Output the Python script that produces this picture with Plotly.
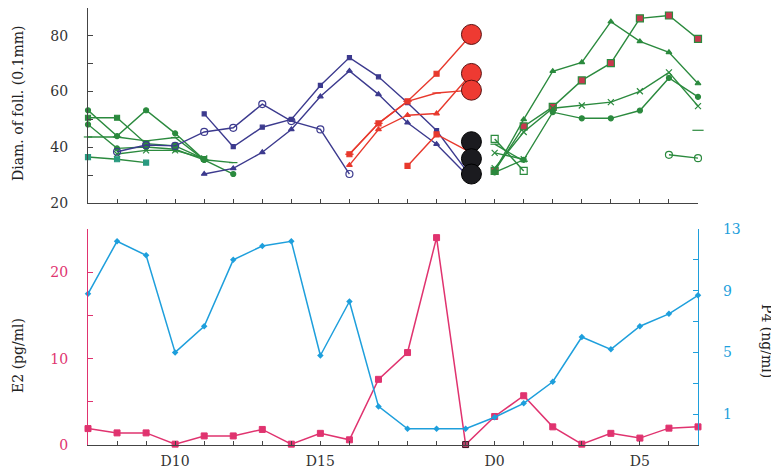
import plotly.graph_objects as go

# ---------------- data ----------------
# day index 0..21  ->  D7 ... D20, D0 ... D7
day_tick_vals = [3, 8, 14, 19]
day_tick_text = ["D10", "D15", "D0", "D5"]

# follicle diameters (0.1 mm) - green group (left)
gl1_x = [0, 1, 2, 3, 4, 5];  gl1_y = [53.3, 44.0, 53.3, 45.0, 35.5, 30.4]
gl2_x = [0, 1, 2, 3, 4];     gl2_y = [50.6, 50.6, 41.3, 40.5, 35.8]
gl3_x = [0, 1, 2, 3, 4, 5];  gl3_y = [43.7, 43.7, 42.3, 43.5, 35.5, 34.5]
gl4_x = [0, 1, 2, 3, 4];     gl4_y = [48.2, 39.6, 40.1, 39.3, 35.5]
gl5_x = [1, 2, 3, 4];        gl5_y = [37.6, 38.9, 38.9, 36.0]
gl6_x = [0, 1, 2];           gl6_y = [36.5, 35.7, 34.5]

# purple group
p1_x = [1, 2, 3, 4, 5, 6, 7, 8, 9]
p1_y = [38.4, 40.8, 40.5, 45.5, 47.0, 55.5, 49.4, 46.4, 30.4]
p2_x = [4, 5, 6, 7, 8, 9, 10, 11, 12, 13]
p2_y = [52.0, 40.2, 47.2, 50.0, 62.2, 72.2, 65.3, 56.0, 46.0, 32.0]
p3_x = [4, 5, 6, 7, 8, 9, 10, 11, 12, 13]
p3_y = [30.4, 32.4, 38.2, 46.4, 58.2, 67.4, 59.0, 48.8, 41.1, 30.5]

# red group (ending at ovulatory follicles)
r1_x = [9, 10, 11, 12, 13.2]; r1_y = [37.5, 48.6, 56.5, 66.4, 80.5]
r2_x = [9, 10, 11, 12, 13.2]; r2_y = [37.5, 48.6, 56.5, 59.5, 60.5]
r3_x = [9, 10, 11, 12, 13.2]; r3_y = [33.6, 46.4, 51.5, 52.1, 66.5]
r4_x = [11, 12, 13.2];        r4_y = [33.3, 44.6, 38.0]

# large follicles at D-1
ovul_x = [13.2, 13.2, 13.2];  ovul_y = [80.5, 66.5, 60.5]
atr_x = [13.2, 13.2, 13.2];   atr_y = [42.0, 35.9, 30.4]

# green group (right)
gr1_x = [14, 15, 16, 17, 18, 19, 20, 21]; gr1_y = [31.5, 47.5, 54.5, 64.0, 70.2, 86.3, 87.3, 78.9]
gr2_x = [14, 15, 16, 17, 18, 19, 20, 21]; gr2_y = [31.5, 50.0, 67.3, 70.5, 85.1, 78.0, 74.1, 62.9]
gr3_x = [14, 15, 16, 17, 18, 19, 20, 21]; gr3_y = [32.5, 45.5, 54.0, 55.0, 56.2, 60.1, 66.9, 54.8]
gr4_x = [14, 15, 16, 17, 18, 19, 20, 21]; gr4_y = [31.0, 35.5, 52.6, 50.4, 50.4, 53.2, 64.9, 58.1]
gr5_x = [21];      gr5_y = [46.1]
gr6_x = [20, 21];  gr6_y = [37.3, 36.1]
gr7_x = [14, 15];  gr7_y = [43.0, 31.5]
gr8_x = [14, 15];  gr8_y = [41.1, 35.0]
gr9_x = [14, 15];  gr9_y = [38.0, 35.7]

# hormones
hormone_days = list(range(22))
e2 = [1.9, 1.4, 1.4, 0.1, 1.05, 1.05, 1.8, 0.1, 1.35, 0.6, 7.6, 10.7,
      24.0, 0.05, 3.3, 5.7, 2.1, 0.1, 1.35, 0.8, 1.95, 2.1]
p4 = [8.8, 12.2, 11.3, 5.0, 6.7, 11.0, 11.9, 12.2, 4.8, 8.3, 1.5, 0.05,
      0.05, 0.05, 0.8, 1.7, 3.1, 6.0, 5.2, 6.7, 7.5, 8.7]

# ---------------- styles ----------------
GREEN = "#2b8a3e"
TEAL = "#2a9a80"
PURPLE = "#3c3a8e"
RED = "#e8392d"
PINK = "#e0336f"
BLUE = "#1e9fdc"
AXC = "#444444"
FONT = "DejaVu Serif"

fig = go.Figure()


def add_line(x, y, color, symbol="circle", size=5, mfill=None, mline=None, mode="lines+markers", width=1.4):
    fig.add_trace(go.Scatter(
        x=x, y=y, mode=mode, xaxis="x", yaxis="y",
        line=dict(color=color, width=width),
        marker=dict(symbol=symbol, size=size, color=mfill or color,
                    line=dict(color=mline or color, width=1.2)),
        cliponaxis=False, showlegend=False, hoverinfo="skip"))


# green left
add_line(gl1_x, gl1_y, GREEN, "circle")
add_line(gl2_x, gl2_y, GREEN, "square")
add_line(gl3_x, gl3_y, GREEN, "line-ew", size=6)
add_line(gl4_x, gl4_y, GREEN, "circle")
add_line(gl5_x, gl5_y, GREEN, "x-thin", size=6)
add_line(gl6_x, gl6_y, GREEN, "square", mfill=TEAL, mline=TEAL)
# purple
add_line(p1_x, p1_y, PURPLE, "circle-open", size=7)
add_line(p2_x, p2_y, PURPLE, "square", size=4)
add_line(p3_x, p3_y, PURPLE, "triangle-up", size=5)
# red
add_line(r1_x, r1_y, RED, "square", size=5)
add_line(r2_x, r2_y, RED, "line-ew", size=6)
add_line(r3_x, r3_y, RED, "triangle-up", size=5)
add_line(r4_x, r4_y, RED, "square", size=5)
# green right
add_line(gr1_x, gr1_y, GREEN, "square", size=7, mfill="#c8384e", mline=GREEN)
add_line(gr2_x, gr2_y, GREEN, "triangle-up", size=5)
add_line(gr3_x, gr3_y, GREEN, "x-thin", size=6)
add_line(gr4_x, gr4_y, GREEN, "circle", size=5)
add_line(gr5_x, gr5_y, GREEN, "line-ew", size=8, mode="markers")
add_line(gr6_x, gr6_y, GREEN, "circle-open", size=7)
add_line(gr7_x, gr7_y, GREEN, "square-open", size=7)
add_line(gr8_x, gr8_y, GREEN, "line-ew", size=6)
add_line(gr9_x, gr9_y, GREEN, "x-thin", size=6)

# big follicles
fig.add_trace(go.Scatter(x=ovul_x, y=ovul_y, mode="markers", xaxis="x", yaxis="y",
                         marker=dict(size=20, color="#ee3a32", line=dict(color="#5a1010", width=1)),
                         cliponaxis=False, showlegend=False, hoverinfo="skip"))
fig.add_trace(go.Scatter(x=atr_x, y=atr_y, mode="markers", xaxis="x", yaxis="y",
                         marker=dict(size=20, color="#1b1b1f", line=dict(color="#000000", width=1)),
                         cliponaxis=False, showlegend=False, hoverinfo="skip"))

# hormones
fig.add_trace(go.Scatter(x=hormone_days, y=p4, mode="lines+markers", xaxis="x2", yaxis="y3",
                         line=dict(color=BLUE, width=1.5),
                         marker=dict(symbol="diamond", size=5, color=BLUE),
                         cliponaxis=False, showlegend=False, hoverinfo="skip"))
e2_colors = [PINK] * len(e2)
e2_colors[13] = "#b8406a"
fig.add_trace(go.Scatter(x=hormone_days, y=e2, mode="lines+markers", xaxis="x2", yaxis="y2",
                         line=dict(color=PINK, width=1.5),
                         marker=dict(symbol="square", size=6, color=e2_colors,
                                     line=dict(color=[PINK] * 13 + ["#3a1020"] + [PINK] * 8, width=1)),
                         cliponaxis=False, showlegend=False, hoverinfo="skip"))

all_days = list(range(22))
bottom_text = [day_tick_text[day_tick_vals.index(d)] if d in day_tick_vals else "" for d in all_days]

tickfont_dark = dict(family=FONT, size=14, color="#333333")

# the page places the figure 8px from the top-left corner, so the figure is 8px smaller
fig.update_layout(
    width=771, height=463,
    margin=dict(l=80, r=81, t=0, b=26, pad=0, autoexpand=False),
    paper_bgcolor="white", plot_bgcolor="white",
    xaxis=dict(domain=[0, 1], anchor="y", range=[0, 21], showgrid=False, zeroline=False,
               automargin=False,
               showline=True, linecolor=AXC, linewidth=1.3,
               tickmode="array", tickvals=all_days, ticktext=[""] * 22,
               ticks="inside", ticklen=4, tickcolor=AXC),
    yaxis=dict(domain=[0.5538, 1], anchor="x", range=[20, 90], showgrid=False, zeroline=False,
               automargin=False,
               showline=True, linecolor=AXC, linewidth=1.3,
               tickmode="array", tickvals=[20, 30, 40, 50, 60, 70, 80],
               ticktext=["20", "", "40", "", "60", "", "80"],
               ticks="inside", ticklen=5, tickcolor=AXC, tickfont=tickfont_dark,
               ticklabelstandoff=16),
    xaxis2=dict(domain=[0, 1], anchor="y2", range=[0, 21], showgrid=False, zeroline=False,
                automargin=False,
                showline=True, linecolor=AXC, linewidth=1.3,
                tickmode="array", tickvals=all_days, ticktext=bottom_text,
                ticks="inside", ticklen=4, tickcolor=AXC, tickfont=tickfont_dark,
                ticklabelstandoff=3),
    yaxis2=dict(domain=[0, 0.4943], anchor="x2", range=[0, 25], showgrid=False, zeroline=False,
                automargin=False,
                showline=True, linecolor=PINK, linewidth=1.3,
                tickmode="array", tickvals=[0, 5, 10, 15, 20, 25],
                ticktext=["0", "", "10", "", "20", ""],
                ticks="inside", ticklen=5, tickcolor=PINK,
                tickfont=dict(family=FONT, size=14, color=PINK), ticklabelstandoff=16),
    yaxis3=dict(domain=[0, 0.4943], anchor="x2", overlaying="y2", side="right", range=[-1, 13],
                showgrid=False, zeroline=False, automargin=False,
                showline=True, linecolor=BLUE, linewidth=1.3,
                tickmode="array", tickvals=[-1, 1, 3, 5, 7, 9, 11, 13],
                ticktext=["", "1", "", "5", "", "9", "", "13"],
                ticks="inside", ticklen=5, tickcolor=BLUE,
                tickfont=dict(family=FONT, size=14, color=BLUE), ticklabelstandoff=21),
    annotations=[
        dict(text="Diam. of foll. (0.1mm)", xref="paper", yref="paper", x=-0.1148, y=0.7826,
             xanchor="center", yanchor="middle", textangle=-90, showarrow=False,
             font=dict(family=FONT, size=14, color="#222222")),
        dict(text="E2 (pg/ml)", xref="paper", yref="paper", x=-0.1148, y=0.206,
             xanchor="center", yanchor="middle", textangle=-90, showarrow=False,
             font=dict(family=FONT, size=14, color="#222222")),
        dict(text="P4 (ng/ml)", xref="paper", yref="paper", x=1.113, y=0.238,
             xanchor="center", yanchor="middle", textangle=90, showarrow=False,
             font=dict(family=FONT, size=14, color="#222222")),
    ],
)

fig.write_html("out.html")
